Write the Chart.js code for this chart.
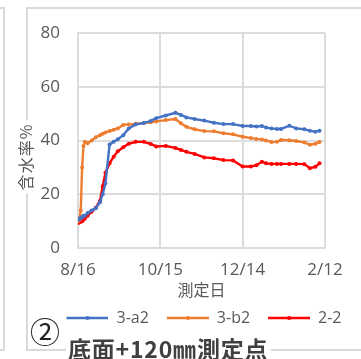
<!DOCTYPE html>
<html lang="ja">
<head>
<meta charset="utf-8">
<title>含水率の推移</title>
<script src="https://cdn.jsdelivr.net/npm/chart.js@4/dist/chart.umd.min.js"></script>
<style>
  html, body { margin: 0; padding: 0; background: #fff; }
  body { position: relative; width: 361px; height: 359px; overflow: hidden; }
  .ln { position: absolute; background: #d9d9d9; }
  #chart { position: absolute; left: 0; top: 0; }
  #ytitle {
    position: absolute; left: 25px; top: 157px;
    transform: translate(-50%, -50%) rotate(-90deg);
    font: 16px "Noto Sans CJK JP", sans-serif; color: #595959;
    background: #fff; white-space: nowrap; line-height: 1; padding: 2px 3px;
    letter-spacing: 1px;
  }
  #num {
    position: absolute; left: 30px; top: 315px;
    font: 30px/1 "Noto Sans CJK JP", sans-serif; color: #222;
  }
  #caption {
    position: absolute; left: 66px; top: 337px;
    font: bold 23px/1 "Noto Sans CJK JP", sans-serif; color: #404040;
    letter-spacing: 0.8px;
    background: #fff; padding: 0 3px 0 2px; white-space: nowrap;
  }
</style>
</head>
<body>
<!-- chart frame -->
<div class="ln" style="left:26px;top:7px;width:335px;height:2px"></div>
<div class="ln" style="left:26px;top:7px;width:2px;height:344px"></div>
<div class="ln" style="left:26px;top:349px;width:335px;height:2px"></div>
<!-- edge of the neighbouring panel -->
<div class="ln" style="left:3px;top:7px;width:2px;height:344px"></div>
<div class="ln" style="left:0;top:7px;width:4px;height:2px"></div>
<div class="ln" style="left:0;top:349px;width:4px;height:2px"></div>

<canvas id="chart" width="384" height="359"></canvas>
<div id="ytitle">含水率%</div>
<div id="num">②</div>
<div id="caption">底面+120㎜測定点</div>

<script>
// Measurement days, counted from 8/16
const measureDays = [0, 1, 2, 3, 4, 5, 7, 10, 13, 16, 18, 20, 23, 26, 29, 33, 37, 42,
  48, 53, 57, 64, 71, 75, 79, 85, 92, 99, 106, 113, 120, 126, 130, 134, 137, 141,
  145, 148, 154, 159, 165, 169, 173, 176];

// Moisture content (%) at each measurement day
const seriesA2 = [10.5, 11, 11, 11.5, 12, 12, 13, 14, 14.8, 17, 20, 24, 38.5, 39.5, 40.5, 42, 44.5, 46,
  46.5, 47.3, 48.3, 49.3, 50.3, 49.5, 48.6, 48, 47.4, 46.6, 46.1, 46.1, 45.4, 45.4, 45.2, 45.4, 44.8, 44.5,
  44.3, 44.3, 45.5, 44.5, 44.2, 43.6, 43.3, 43.6];
const seriesB2 = [10, 10.5, 14, 30, 38, 39.5, 39, 40, 41.2, 42, 42.5, 43, 43.5, 44, 44.5, 45.8, 46, 46.2,
  46.5, 46.8, 47.1, 47.6, 48, 46.4, 45.1, 44.2, 43.5, 43.4, 42.7, 42.3, 41.4, 40.9, 40.6, 40.4, 40, 39.4,
  39.5, 40.2, 40.1, 39.8, 39.3, 38.4, 38.8, 39.4];
const series22 = [9.3, 9.5, 9.8, 10, 10.5, 11, 12, 13.5, 15, 17.5, 23, 28, 31.5, 34, 36, 37.5, 38.8, 39.5,
  39.5, 38.7, 37.8, 38, 37.2, 36.5, 35.8, 35, 33.7, 33.4, 32.7, 32.6, 30.3, 30.3, 30.8, 32.1, 31.5, 31.3,
  31.3, 31.3, 31.3, 31.3, 31.2, 29.7, 30.2, 31.5];

const seriesNames = ['3-a2', '3-b2', '2-2'];
const seriesColors = ['#4472C4', '#ED7D31', '#FF0000'];

// Date labels for the x-axis ticks (every 60 days)
const dateTicks = ['8/16', '10/15', '12/14', '2/12'];
const tickStepDays = 60;

const tickColor = '#595959';
const gridColor = '#dcdcdc';

function toPoints(values) {
  return measureDays.map((d, i) => ({ x: d, y: values[i] }));
}

// Legend swatch: short line with a marker in the middle
function legendSwatch(color) {
  const c = document.createElement('canvas');
  c.width = 50; c.height = 8;
  const g = c.getContext('2d');
  g.strokeStyle = color; g.lineWidth = 2.5;
  g.beginPath(); g.moveTo(8, 4); g.lineTo(50, 4); g.stroke();
  g.fillStyle = color;
  g.beginPath(); g.arc(29, 4, 2, 0, Math.PI * 2); g.fill();
  return c;
}
const swatches = seriesColors.map(legendSwatch);

const datasets = [seriesA2, seriesB2, series22].map((vals, i) => ({
  label: seriesNames[i],
  data: toPoints(vals),
  yAxisID: 'y',
  borderColor: seriesColors[i],
  backgroundColor: seriesColors[i],
  pointBackgroundColor: seriesColors[i],
  pointBorderColor: seriesColors[i],
  borderWidth: 2.4,
  pointRadius: 2,
  pointBorderWidth: 0,
  tension: 0
}));

new Chart(document.getElementById('chart'), {
  type: 'line',
  data: { datasets },
  options: {
    responsive: false,
    animation: false,
    devicePixelRatio: 1,
    layout: { padding: { left: 16, top: 33, right: 0, bottom: 23 } },
    scales: {
      x: {
        type: 'linear',
        min: 0,
        max: tickStepDays * (dateTicks.length - 1),
        ticks: {
          stepSize: tickStepDays,
          autoSkip: false,
          maxRotation: 0,
          padding: 12,
          color: tickColor,
          font: { family: 'Open Sans', size: 17 },
          callback: (v) => dateTicks[Math.round(v / tickStepDays)] ?? ''
        },
        grid: { color: gridColor, lineWidth: 2, drawTicks: false },
        border: { color: gridColor, width: 2 },
        title: {
          display: true,
          text: '測定日',
          color: tickColor,
          font: { family: 'Noto Sans CJK JP', size: 16 },
          padding: { top: 0, bottom: 0 }
        },
        afterFit(s) { s.height = 52; s.paddingLeft = 0; s.paddingRight = 0; }
      },
      y: {
        min: 0,
        max: 80,
        ticks: {
          stepSize: 20,
          padding: 18,
          color: tickColor,
          font: { family: 'Open Sans', size: 17 }
        },
        grid: { color: gridColor, lineWidth: 2, drawTicks: false },
        border: { color: gridColor, width: 2 },
        afterFit(s) { s.width = 62; s.paddingTop = 0; s.paddingBottom = 0; }
      },
      // empty right-hand axis that reserves the margin beside the plot
      yR: {
        position: 'right',
        min: 0,
        max: 80,
        grid: { display: false },
        border: { display: false },
        ticks: { display: false },
        afterFit(s) { s.width = 59; s.paddingTop = 0; s.paddingBottom = 0; }
      }
    },
    plugins: {
      tooltip: { enabled: false },
      legend: {
        position: 'bottom',
        labels: {
          usePointStyle: true,
          pointStyleWidth: 50,
          padding: 10,
          color: tickColor,
          font: { family: 'Open Sans', size: 16 },
          generateLabels(chart) {
            const items = Chart.defaults.plugins.legend.labels.generateLabels(chart);
            items.forEach((it, i) => { it.pointStyle = swatches[i]; });
            return items;
          }
        }
      }
    }
  }
});
</script>
</body>
</html>
